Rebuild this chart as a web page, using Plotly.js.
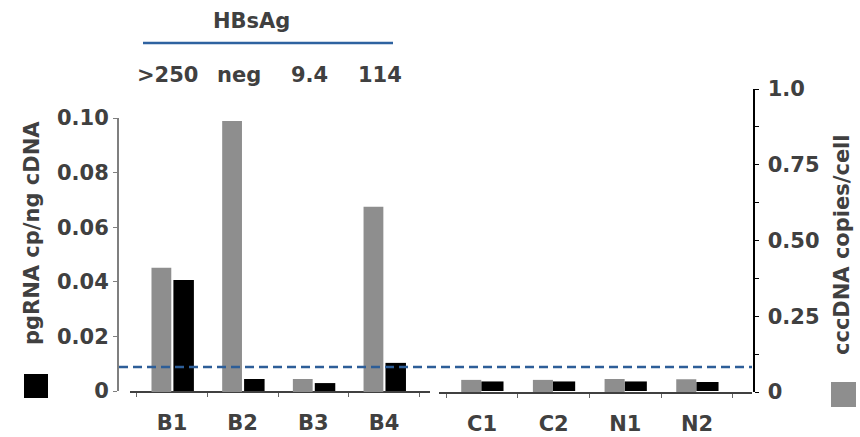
<!DOCTYPE html>
<html><head><meta charset="utf-8">
<script src="https://cdn.plot.ly/plotly-3.0.1.min.js"></script>
<style>html,body{margin:0;padding:0;background:#fff}#chart{width:860px;height:437px}</style>
</head><body><div id="chart"></div>
<script>
// ---- data ----
const groupB = ["B1", "B2", "B3", "B4"];
const groupC = ["C1", "C2", "N1", "N2"];
const hbsagValues = [">250", "neg", "9.4", "114"];
const hbsagTitle = "HBsAg";
const cccDNA_B = [0.41, 0.894, 0.043, 0.611];
const cccDNA_C = [0.040, 0.040, 0.043, 0.042];
const pgRNA_B = [0.0407, 0.0044, 0.0029, 0.0103];
const pgRNA_C = [0.0035, 0.0035, 0.0035, 0.0033];
const pgRNA_limit = 0.0088;
const leftTicks = [0, 0.02, 0.04, 0.06, 0.08, 0.10];
const leftTickText = ["0", "0.02", "0.04", "0.06", "0.08", "0.10"];
const rightTicks = [0, 0.25, 0.5, 0.75, 1.0];
const rightTickText = ["0", "0.25", "0.50", "0.75", "1.0"];
const leftTitle = "pgRNA cp/ng cDNA";
const rightTitle = "cccDNA copies/cell";

// ---- layout helpers ----
const W = 860, H = 437;
const px = x => x / W, py = y => 1 - y / H;
const GRAY = '#8e8e8e', TXT = '#404040';
const F = {family: 'DejaVu Sans, sans-serif', weight: 'bold', size: 21, color: TXT};

const traces = [
  {type: 'bar', x: groupB, y: cccDNA_B, xaxis: 'x', yaxis: 'y2', marker: {color: GRAY}, offset: -0.29, width: 0.28, hoverinfo: 'skip'},
  {type: 'bar', x: groupB, y: pgRNA_B, xaxis: 'x', yaxis: 'y', marker: {color: '#000'}, offset: 0.02, width: 0.29, hoverinfo: 'skip'},
  {type: 'bar', x: groupC, y: cccDNA_C, xaxis: 'x2', yaxis: 'y2', marker: {color: GRAY}, offset: -0.29, width: 0.28, hoverinfo: 'skip'},
  {type: 'bar', x: groupC, y: pgRNA_C, xaxis: 'x2', yaxis: 'y', marker: {color: '#000'}, offset: -0.01, width: 0.31, hoverinfo: 'skip'}
];

const rangeB = [-0.594, 3.65], rangeC = [-0.60, 3.767];
const domB = [px(130), px(430)], domC = [px(439), px(752)];

const xCommon = {type: 'category', showline: true, linecolor: '#404040', linewidth: 1.5,
  ticks: 'outside', tickson: 'boundaries', ticklen: 4, tickcolor: '#666', tickwidth: 1,
  tickfont: F, showgrid: false, zeroline: false, fixedrange: true, ticklabelstandoff: 12};

const annotations = [
  {text: hbsagTitle, xref: 'paper', yref: 'paper', x: px(251), y: py(21), showarrow: false, font: F, xanchor: 'center', yanchor: 'middle'},
  {text: leftTitle, xref: 'paper', yref: 'paper', x: px(32), y: py(233), textangle: -90, showarrow: false, font: F, xanchor: 'center', yanchor: 'middle'},
  {text: rightTitle, xref: 'paper', yref: 'paper', x: px(842), y: py(245), textangle: -90, showarrow: false, font: F, xanchor: 'center', yanchor: 'middle'}
].concat(hbsagValues.map((v, i) => ({text: v, xref: 'x', yref: 'paper', x: groupB[i], y: py(75), xshift: -4,
  showarrow: false, font: F, xanchor: 'center', yanchor: 'middle'})));

const layout = {
  width: W, height: H, margin: {l: 0, r: 0, t: 0, b: 0},
  paper_bgcolor: '#fff', plot_bgcolor: 'rgba(0,0,0,0)', showlegend: false, barmode: 'overlay',
  xaxis: Object.assign({}, xCommon, {domain: domB, range: rangeB, anchor: 'y',
    categoryorder: 'array', categoryarray: groupB}),
  xaxis2: Object.assign({}, xCommon, {domain: domC, range: rangeC, anchor: 'y2',
    categoryorder: 'array', categoryarray: groupC}),
  yaxis: {domain: [py(391), py(118)], range: [0, 0.1], anchor: 'free', position: px(117), side: 'left',
    showline: true, linecolor: '#7f7f7f', linewidth: 1.5, ticks: 'outside', ticklen: 4, tickcolor: '#7f7f7f',
    tickmode: 'array', tickvals: leftTicks, ticktext: leftTickText, tickfont: F,
    showgrid: false, zeroline: false, fixedrange: true},
  yaxis2: {domain: [py(392), py(89)], range: [0, 1], anchor: 'free', position: px(753), side: 'right',
    showline: true, linecolor: '#000', linewidth: 1.5, ticks: 'outside', ticklen: 4, tickcolor: '#000',
    tickmode: 'array', tickvals: rightTicks, ticktext: rightTickText, tickfont: F, ticklabelstandoff: 5,
    minor: {tickmode: 'linear', tick0: 0, dtick: 0.125, ticks: 'outside', ticklen: 4, tickcolor: '#000'},
    showgrid: false, zeroline: false, fixedrange: true},
  shapes: [
    {type: 'line', xref: 'paper', yref: 'paper', x0: px(143), x1: px(393), y0: py(43), y1: py(43),
      line: {color: '#2e62a0', width: 2.5}},
    {type: 'line', xref: 'paper', yref: 'y', x0: px(119), x1: px(752), y0: pgRNA_limit, y1: pgRNA_limit,
      line: {color: '#2d5e98', width: 2.5, dash: '9px,5px'}},
    {type: 'rect', xref: 'paper', yref: 'paper', x0: px(24), x1: px(48), y0: py(398), y1: py(374),
      fillcolor: '#000', line: {width: 0}},
    {type: 'rect', xref: 'paper', yref: 'paper', x0: px(831), x1: px(856), y0: py(407), y1: py(382),
      fillcolor: GRAY, line: {width: 0}}
  ],
  annotations: annotations
};

Plotly.newPlot('chart', traces, layout, {staticPlot: true, displayModeBar: false});
</script></body></html>
